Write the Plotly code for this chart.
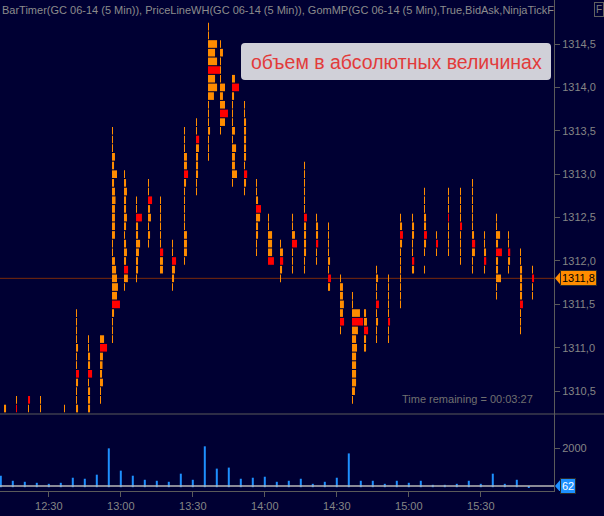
import plotly.graph_objects as go
from datetime import datetime, timedelta

# ---------------- data ----------------
session_start = datetime(2014, 5, 20, 12, 10)
bar_minutes = 5
tick_size = 0.1
last_price = 1311.8

bar_volume = [586, 328, 276, 224, 172, 224, 483, 431, 638, 1983,
              845, 586, 379, 328, 276, 690, 379, 2086, 948, 1000,
              431, 483, 534, 276, 328, 431, 172, 276, 483, 1724,
              328, 328, 172, 328, 224, 328, 121, 121, 172, 328,
              172, 690, 172, 379, 62]

# highest traded price of each bar that is visible on the chart (None = below view)
bar_high = [1310.3, 1310.4, 1310.4, 1310.4, None, 1310.3, 1311.4, 1311.1, 1311.1, 1313.5,
            1313.0, 1312.7, 1312.9, 1312.7, 1312.2, 1313.5, 1313.6, 1314.7, 1314.5, 1314.1,
            1313.8, 1312.9, 1312.5, 1312.2, 1312.5, 1313.1, 1312.5, 1312.4, 1311.8, 1311.6,
            1311.4, 1311.9, 1311.8, 1312.5, 1312.5, 1312.8, 1312.3, 1312.8, 1312.8, 1312.9,
            1312.3, 1312.5, 1312.3, 1312.1, 1311.9]

# volume traded at each price level, from the high downwards (one tick per entry)
ladder_volumes = [
    [55],
    [20, 22],
    [55, 20],
    [20, 20],
    [],
    [20],
    [20, 20, 20, 20, 55, 20, 20, 80, 55, 20, 20, 55],
    [20, 20, 55, 55, 110, 20, 55, 55, 55],
    [110, 190, 80, 68, 55, 80, 20, 20],
    [20, 20, 20, 80, 55, 135, 55, 80, 95, 80, 80, 80, 80, 20, 20, 80, 110, 135, 160, 135, 215, 55, 20, 20, 20],
    [20, 55, 80, 55, 55, 80, 55, 20, 55, 80, 55, 110, 105, 20],
    [20, 20, 160, 55, 55, 110, 80, 55, 55, 20],
    [20, 20, 110, 55, 80, 20, 55, 20],
    [20, 20, 20, 20, 20, 20, 85, 80, 80],
    [20, 20, 110, 80, 55, 20],
    [20, 20, 20, 80, 80, 110, 55, 20, 20, 20, 20, 20, 80, 80, 80, 20],
    [20, 20, 85, 80, 55, 55, 55, 20, 20],
    [20, 25, 245, 190, 245, 325, 190, 245, 160, 20, 20, 20, 55, 20, 20, 20],
    [20, 80, 20, 20, 20, 135, 80, 135, 215, 135, 20],
    [80, 190, 55, 20, 20, 20, 80, 20, 110, 80, 80, 135, 20],
    [20, 20, 55, 55, 55, 55, 55, 20, 85, 55, 20],
    [20, 20, 55, 135, 110, 55, 55, 20, 20],
    [20, 20, 110, 110, 110, 160],
    [20, 80, 85, 55, 20],
    [20, 20, 80, 135, 20, 20, 20],
    [20, 20, 20, 20, 20, 20, 80, 55, 55, 55, 55, 20, 20],
    [20, 55, 55, 60, 20, 20],
    [20, 20, 20, 20, 55, 20, 80, 55],
    [20, 80, 80, 105, 80, 110, 20],
    [20, 20, 215, 300, 160, 110, 135, 110, 110, 110, 110, 80, 20],
    [55, 80, 110, 55, 55],
    [20, 55, 20, 20, 80, 20, 55, 20, 20],
    [20, 20, 20, 20, 20, 55, 20, 20],
    [20, 55, 80, 55, 20, 20, 20, 20, 20, 20, 20],
    [20, 55, 55, 20, 20, 60, 55],
    [20, 20, 20, 55, 55, 80, 55, 20, 0, 20],
    [20, 55, 20],
    [15, 15, 15, 25, 15, 15, 15, 15],
    [20, 20, 20, 20, 55, 20, 20, 20, 20],
    [20, 20, 20, 20, 20, 20, 55, 85, 80, 20, 20],
    [20, 20, 55, 60, 20],
    [20, 20, 110, 55, 160, 55, 55, 135, 20, 20],
    [20, 20, 60, 55, 20],
    [20, 20, 55, 55, 55, 55, 80, 20, 20, 20],
    [15, 55, 15, 15],
]

# point of control (max-volume price) of each bar, None when it lies below the view
poc_price = [None, 1310.3, 1310.4, None, None, None, 1310.7, 1310.7, 1311.0, 1311.5,
             1311.9, 1312.5, 1312.7, 1312.1, 1312.0, 1313.0, 1313.4, 1314.2, 1313.7, 1314.0,
             1313.0, 1312.6, 1312.0, 1312.0, 1312.2, 1312.5, 1312.2, 1311.8, 1311.3, 1311.3,
             1311.2, 1311.5, 1311.3, 1312.3, 1312.0, 1312.3, 1312.2, 1312.5, 1312.4, 1312.2,
             1312.0, 1312.1, 1312.1, 1311.5, 1311.8]

price_ticks = [1310.5, 1311.0, 1311.5, 1312.0, 1312.5, 1313.0, 1313.5, 1314.0, 1314.5]
price_tick_labels = ["1310,5", "1311,0", "1311,5", "1312,0", "1312,5", "1313,0", "1313,5", "1314,0", "1314,5"]
volume_ticks = [2000]
volume_tick_labels = ["2000"]
time_tick_labels = ["12:30", "13:00", "13:30", "14:00", "14:30", "15:00", "15:30"]

header_text = ("BarTimer(GC 06-14 (5 Min)), PriceLineWH(GC 06-14 (5 Min)), "
               "GomMP(GC 06-14 (5 Min),True,BidAsk,NinjaTickFilter)")
note_text = "объем в абсолютных величинах"
timer_text = "Time remaining = 00:03:27"

# ---------------- styles ----------------
BG = "#000033"
ORANGE = "#FF8C00"
RED = "#FF0000"
BLUE = "#1E90FF"
AXIS = "#5a5a5a"
TXT = "#858585"
FONT = "Liberation Sans, Arial, sans-serif"

W_PLOT, H_PLOT = 554, 491           # plot area in pixels
MS_PER_PX = 25000                   # 5 min bar = 12 px
ladder_offset = timedelta(seconds=80)
ms_per_contract = MS_PER_PX / 27.0
min_ms = MS_PER_PX

bar_times = [session_start + timedelta(minutes=bar_minutes * i) for i in range(len(bar_volume))]
fmt = "%Y-%m-%d %H:%M:%S"

# ---------------- ladder traces ----------------
groups = {"o": dict(y=[], x=[], base=[]), "r": dict(y=[], x=[], base=[])}
for t, high, vols, poc in zip(bar_times, bar_high, ladder_volumes, poc_price):
    if high is None:
        continue
    for k, v in enumerate(vols):
        if v <= 0:
            continue
        price = round(high - k * tick_size, 1)
        g = groups["r"] if (poc is not None and abs(price - poc) < 1e-6) else groups["o"]
        g["y"].append(price)
        g["x"].append(max(v * ms_per_contract, min_ms))
        g["base"].append((t + ladder_offset).strftime(fmt))

fig = go.Figure()
for key, col in (("o", ORANGE), ("r", RED)):
    g = groups[key]
    fig.add_trace(go.Bar(orientation="h", y=g["y"], x=g["x"], base=g["base"],
                         width=0.088, marker=dict(color=col, line=dict(width=0)),
                         xaxis="x", yaxis="y", hoverinfo="skip"))

fig.add_trace(go.Bar(x=[t.strftime(fmt) for t in bar_times], y=bar_volume, width=2 * MS_PER_PX,
                     marker=dict(color=BLUE, line=dict(width=0)),
                     xaxis="x", yaxis="y2", hoverinfo="skip"))

# ---------------- layout ----------------
sep = 1 - 414 / H_PLOT
x_start = bar_times[0] - timedelta(milliseconds=0.8 * MS_PER_PX)
x_end = x_start + timedelta(milliseconds=W_PLOT * MS_PER_PX)
day = session_start.strftime("%Y-%m-%d")
time_tick_vals = [f"{day} {s}:00" for s in time_tick_labels]

axis_common = dict(showgrid=False, zeroline=False, ticks="outside", ticklen=5,
                   tickcolor=AXIS, showline=True, linecolor=AXIS, linewidth=1,
                   tickfont=dict(family=FONT, size=11, color=TXT))

fig.update_layout(
    width=604, height=516,
    margin=dict(l=0, r=50, t=0, b=25),
    paper_bgcolor=BG, plot_bgcolor=BG,
    barmode="overlay", showlegend=False,
    xaxis=dict(type="date", range=[x_start.strftime(fmt), x_end.strftime(fmt)],
               anchor="y2", tickmode="array", tickvals=time_tick_vals, ticktext=time_tick_labels,
               **axis_common),
    yaxis=dict(domain=[sep, 1], range=[1310.237, 1315.007], side="right", anchor="x",
               tickmode="array", tickvals=price_ticks, ticktext=price_tick_labels, **axis_common),
    yaxis2=dict(domain=[0, sep], range=[-194, 3735], side="right", anchor="x",
                tickmode="array", tickvals=volume_ticks, ticktext=volume_tick_labels, **axis_common),
)


def px_x(px):
    return px / W_PLOT


def px_y(py):
    return 1 - py / H_PLOT


def rounded_rect(x0, y0, x1, y1, r):
    pts = [
        f"M {px_x(x0 + r)},{px_y(y0)}", f"L {px_x(x1 - r)},{px_y(y0)}",
        f"Q {px_x(x1)},{px_y(y0)} {px_x(x1)},{px_y(y0 + r)}", f"L {px_x(x1)},{px_y(y1 - r)}",
        f"Q {px_x(x1)},{px_y(y1)} {px_x(x1 - r)},{px_y(y1)}", f"L {px_x(x0 + r)},{px_y(y1)}",
        f"Q {px_x(x0)},{px_y(y1)} {px_x(x0)},{px_y(y1 - r)}", f"L {px_x(x0)},{px_y(y0 + r)}",
        f"Q {px_x(x0)},{px_y(y0)} {px_x(x0 + r)},{px_y(y0)}", "Z",
    ]
    return " ".join(pts)


shapes = [
    # last price line
    dict(type="line", xref="paper", yref="y", x0=0, x1=1, y0=last_price, y1=last_price,
         line=dict(color="#7a2a0a", width=1), layer="below"),
    # current bar volume line
    dict(type="line", xref="paper", yref="y2", x0=0, x1=1, y0=bar_volume[-1], y1=bar_volume[-1],
         line=dict(color="#b8b8b8", width=1.5), layer="above"),
    # panel separator
    dict(type="line", xref="paper", yref="paper", x0=0, x1=604 / W_PLOT, y0=sep, y1=sep,
         line=dict(color=AXIS, width=1)),
    # note box
    dict(type="path", xref="paper", yref="paper", path=rounded_rect(241, 43, 551, 80, 4),
         fillcolor="#D0D0D8", line=dict(width=0), layer="above"),
    # price marker pointer
    dict(type="path", xref="paper", yref="y",
         path=(f"M {px_x(555)},{last_price} L {px_x(561)},{last_price + 7 / 86.8} "
               f"L {px_x(561)},{last_price - 7 / 86.8} Z"),
         fillcolor=ORANGE, line=dict(width=0)),
    # volume marker pointer
    dict(type="path", xref="paper", yref="y2",
         path=(f"M {px_x(555)},{bar_volume[-1]} L {px_x(561)},{bar_volume[-1] + 7 / 0.0196} "
               f"L {px_x(561)},{bar_volume[-1] - 7 / 0.0196} Z"),
         fillcolor=BLUE, line=dict(width=0)),
]
fig.update_layout(shapes=shapes)

annotations = [
    dict(xref="paper", yref="paper", x=0, y=px_y(10), xanchor="left", yanchor="middle",
         text=header_text, showarrow=False, width=552, align="left",
         font=dict(family=FONT, size=11, color="#8c8c8c")),
    dict(xref="paper", yref="paper", x=px_x(396), y=px_y(61.5), xanchor="center", yanchor="middle",
         text=note_text, showarrow=False, font=dict(family=FONT, size=19.5, color="#E23B3B")),
    dict(xref="paper", yref="paper", x=px_x(467), y=px_y(399), xanchor="center", yanchor="middle",
         text=timer_text, showarrow=False, font=dict(family=FONT, size=11, color="#707070")),
    dict(xref="paper", yref="y", x=px_x(560), y=last_price, xanchor="left", yanchor="middle",
         text=f"{last_price:.1f}".replace(".", ","), showarrow=False,
         bgcolor=ORANGE, bordercolor="#2a2a2a", borderwidth=1, borderpad=1,
         font=dict(family=FONT, size=11, color="#000000")),
    dict(xref="paper", yref="y2", x=px_x(560), y=bar_volume[-1], xanchor="left", yanchor="middle",
         text=str(bar_volume[-1]), showarrow=False,
         bgcolor=BLUE, bordercolor="#2a2a2a", borderwidth=1, borderpad=1,
         font=dict(family=FONT, size=11, color="#ffffff")),
    dict(xref="paper", yref="paper", x=px_x(594), y=px_y(2), xanchor="left", yanchor="top",
         text="F", showarrow=False, bordercolor="#606060", borderwidth=1, borderpad=1,
         font=dict(family=FONT, size=10, color="#808080")),
]
fig.update_layout(annotations=annotations)

fig.write_html("out.html", config={"displayModeBar": False, "staticPlot": False},
               post_script="document.body.style.margin='0';document.body.style.overflow='hidden';")
